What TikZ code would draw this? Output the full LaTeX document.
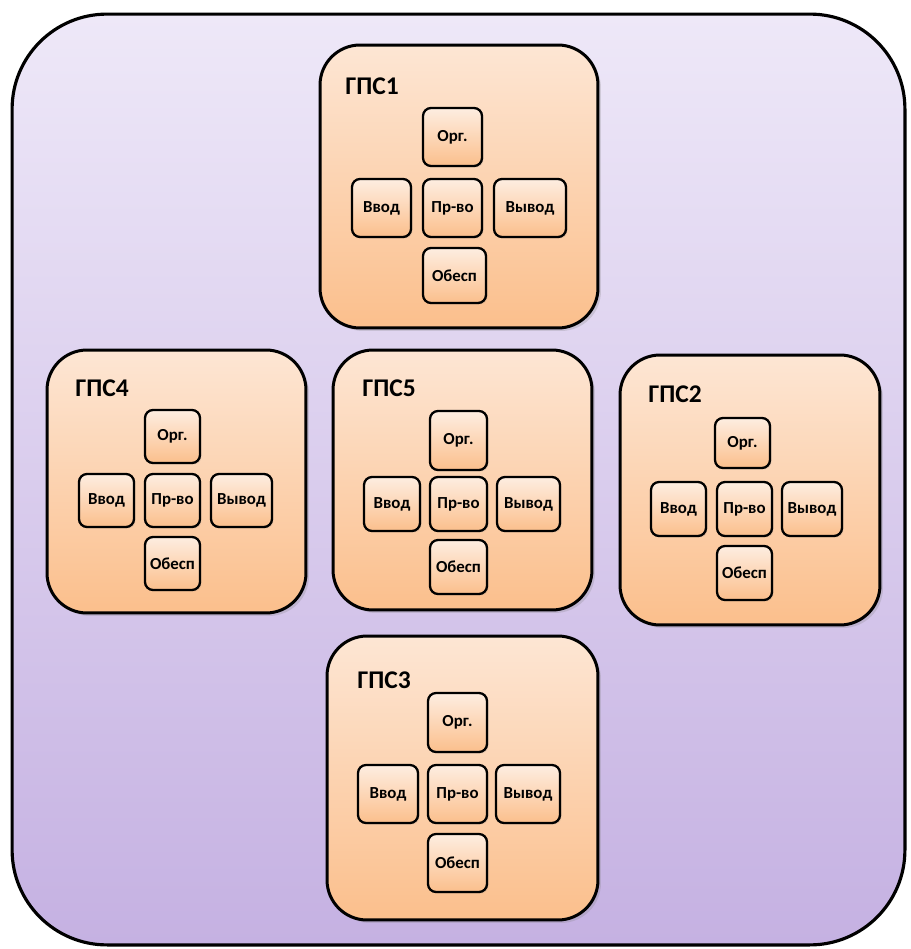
\documentclass[tikz,border=0pt]{standalone}
\usepackage{fontspec}
\setmainfont{Carlito}
\usetikzlibrary{shadows}

\definecolor{fieldtop}{HTML}{EEE8F8}
\definecolor{fieldbot}{HTML}{C5B1E2}
\definecolor{peachtop}{HTML}{FDE6D4}
\definecolor{peachbot}{HTML}{FBBF8C}

\tikzset{
  field/.style={draw=black, line width=1.8pt, rounded corners=1.9cm,
    top color=fieldtop, bottom color=fieldbot},
  panel/.style={draw=black, line width=1.7pt, rounded corners=0.8cm,
    top color=peachtop, bottom color=peachbot,
    drop shadow={opacity=0.25, shadow xshift=0.06cm, shadow yshift=-0.06cm}},
  cell/.style={draw=black, line width=1.3pt, rounded corners=0.16cm,
    top color=peachtop!70!white, bottom color=peachbot,
    drop shadow={opacity=0.2, shadow xshift=0.03cm, shadow yshift=-0.03cm},
    font=\bfseries\fontsize{9.6}{11}\selectfont, inner sep=0pt},
  title/.style={anchor=west, font=\bfseries\fontsize{14.5}{16}\selectfont, inner sep=0pt}
}

\begin{document}
\begin{tikzpicture}[x=0.02cm, y=-0.02cm]
            \useasboundingbox (0,0) rectangle (910,949);
            % Outer field
            \node [field, minimum width=17.86cm, minimum height=18.62cm] (field) at (458.5,479.5) {};

            % GPS1
            \node [panel, minimum width=5.56cm, minimum height=5.66cm] (gps1) at (459,186.5) {};
            \node [title] (gps1t) at (345,86) {ГПС1};
            \node [cell, minimum width=1.18cm, minimum height=1.16cm] (gps1org) at (452.5,137) {Орг.};
            \node [cell, minimum width=1.18cm, minimum height=1.16cm] (gps1in) at (381.5,208) {Ввод};
            \node [cell, minimum width=1.18cm, minimum height=1.16cm] (gps1pr) at (452.5,208) {Пр-во};
            \node [cell, minimum width=1.44cm, minimum height=1.16cm] (gps1out) at (530,208) {Вывод};
            \node [cell, minimum width=1.26cm, minimum height=1.10cm] (gps1ob) at (454.5,275.5) {Обесп};

            % GPS4
            \node [panel, minimum width=5.18cm, minimum height=5.26cm] (gps4) at (176.5,481.5) {};
            \node [title] (gps4t) at (75,388) {ГПС4};
            \node [cell, minimum width=1.10cm, minimum height=1.06cm] (gps4org) at (172.5,436.5) {Орг.};
            \node [cell, minimum width=1.10cm, minimum height=1.06cm] (gps4in) at (106.5,500.5) {Ввод};
            \node [cell, minimum width=1.10cm, minimum height=1.06cm] (gps4pr) at (172.5,500.5) {Пр-во};
            \node [cell, minimum width=1.22cm, minimum height=1.06cm] (gps4out) at (241.5,500.5) {Вывод};
            \node [cell, minimum width=1.10cm, minimum height=1.06cm] (gps4ob) at (172.5,563.5) {Обесп};

            % GPS5
            \node [panel, minimum width=5.18cm, minimum height=5.2cm] (gps5) at (462.5,480) {};
            \node [title] (gps5t) at (362,388) {ГПС5};
            \node [cell, minimum width=1.14cm, minimum height=1.18cm] (gps5org) at (458.5,440.5) {Орг.};
            \node [cell, minimum width=1.12cm, minimum height=1.08cm] (gps5in) at (392,504) {Ввод};
            \node [cell, minimum width=1.14cm, minimum height=1.08cm] (gps5pr) at (458.5,504) {Пр-во};
            \node [cell, minimum width=1.26cm, minimum height=1.08cm] (gps5out) at (528.5,504) {Вывод};
            \node [cell, minimum width=1.14cm, minimum height=1.08cm] (gps5ob) at (458.5,567) {Обесп};

            % GPS2
            \node [panel, minimum width=5.2cm, minimum height=5.4cm] (gps2) at (750,490) {};
            \node [title] (gps2t) at (648,394) {ГПС2};
            \node [cell, minimum width=1.10cm, minimum height=1.0cm] (gps2org) at (742.5,443) {Орг.};
            \node [cell, minimum width=1.10cm, minimum height=1.08cm] (gps2in) at (678.5,509) {Ввод};
            \node [cell, minimum width=1.10cm, minimum height=1.08cm] (gps2pr) at (744.5,509) {Пр-во};
            \node [cell, minimum width=1.20cm, minimum height=1.08cm] (gps2out) at (812,509) {Вывод};
            \node [cell, minimum width=1.10cm, minimum height=1.08cm] (gps2ob) at (744.5,573) {Обесп};

            % GPS3
            \node [panel, minimum width=5.42cm, minimum height=5.68cm] (gps3) at (462.5,778) {};
            \node [title] (gps3t) at (357,680) {ГПС3};
            \node [cell, minimum width=1.18cm, minimum height=1.18cm] (gps3org) at (457.5,722.5) {Орг.};
            \node [cell, minimum width=1.20cm, minimum height=1.16cm] (gps3in) at (388,794) {Ввод};
            \node [cell, minimum width=1.18cm, minimum height=1.16cm] (gps3pr) at (457.5,794) {Пр-во};
            \node [cell, minimum width=1.28cm, minimum height=1.16cm] (gps3out) at (528,794) {Вывод};
            \node [cell, minimum width=1.18cm, minimum height=1.16cm] (gps3ob) at (457.5,863) {Обесп};
\end{tikzpicture}
\end{document}
